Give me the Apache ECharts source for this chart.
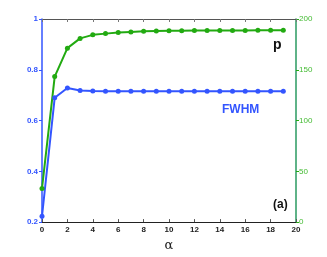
<!DOCTYPE html>
<html><head><meta charset="utf-8">
<script src="https://cdn.jsdelivr.net/npm/echarts@6/dist/echarts.min.js"></script>
<style>html,body{margin:0;padding:0;background:#fff}#c{width:327px;height:257px}</style>
</head><body><div id="c"></div>
<script>
const alpha = [0,1,2,3,4,5,6,7,8,9,10,11,12,13,14,15,16,17,18,19];
const fwhm = [0.223,0.690,0.728,0.718,0.716,0.715,0.715,0.715,0.715,0.715,0.715,0.715,0.715,0.715,0.715,0.715,0.715,0.715,0.715,0.715];
const p = [33.2,143.3,171.3,180.9,184.4,185.6,186.6,187.3,187.9,188.2,188.4,188.5,188.6,188.6,188.7,188.7,188.7,188.8,188.8,188.8];
const blue = '#3355ff', green = '#22aa11';
const font = 'Liberation Sans';
const chart = echarts.init(document.getElementById('c'));
chart.setOption({
  animation: false,
  grid: {left: 42, right: 31, top: 19, bottom: 29},
  xAxis: [{
    type: 'value', min: 0, max: 20, interval: 2, position: 'bottom',
    name: 'α', nameLocation: 'middle', nameGap: 13,
    nameTextStyle: {fontFamily: 'DejaVu Serif', fontSize: 13, color: '#222'},
    axisLine: {onZero: false, lineStyle: {color: '#222', width: 1}},
    axisTick: {inside: true, length: 3, lineStyle: {color: '#555'}},
    axisLabel: {fontFamily: font, fontWeight: 'bold', fontSize: 8, color: '#222', margin: 4},
    splitLine: {show: false}
  }, {
    type: 'value', min: 0, max: 20, interval: 2, position: 'top',
    axisLine: {onZero: false, lineStyle: {color: '#555', width: 1}},
    axisTick: {inside: true, length: 3, lineStyle: {color: '#777'}},
    axisLabel: {show: false}, splitLine: {show: false}
  }],
  yAxis: [{
    type: 'value', min: 0.2, max: 1, interval: 0.2, position: 'left',
    axisLine: {show: true, onZero: false, lineStyle: {color: blue, width: 1.5}},
    axisTick: {show: true, length: 3, lineStyle: {color: blue}},
    axisLabel: {fontFamily: font, fontWeight: 'bold', fontSize: 8, color: blue, margin: 4},
    splitLine: {show: false}
  }, {
    type: 'value', min: 0, max: 200, interval: 50, position: 'right',
    axisLine: {show: true, onZero: false, lineStyle: {color: '#2a9a60', width: 1.5}},
    axisTick: {show: true, length: 3, lineStyle: {color: green}},
    axisLabel: {fontFamily: font, fontSize: 8, color: '#44bb33', margin: 3},
    splitLine: {show: false}
  }],
  series: [{
    type: 'line', xAxisIndex: 0, yAxisIndex: 0,
    data: alpha.map((a, i) => [a, fwhm[i]]),
    symbol: 'circle', symbolSize: 5,
    lineStyle: {color: blue, width: 2}, itemStyle: {color: blue}
  }, {
    type: 'line', xAxisIndex: 0, yAxisIndex: 1,
    data: alpha.map((a, i) => [a, p[i]]),
    symbol: 'circle', symbolSize: 5,
    lineStyle: {color: green, width: 2}, itemStyle: {color: green}
  }],
  graphic: [
    {type: 'text', left: 273, top: 38, style: {text: 'p', fontFamily: font, fontWeight: 'bold', fontSize: 14, fill: '#111'}},
    {type: 'text', left: 222, top: 104, style: {text: 'FWHM', fontFamily: font, fontWeight: 'bold', fontSize: 12, fill: blue}},
    {type: 'text', left: 273, top: 199, style: {text: '(a)', fontFamily: font, fontWeight: 'bold', fontSize: 12, fill: '#111'}}
  ]
});
</script></body></html>
